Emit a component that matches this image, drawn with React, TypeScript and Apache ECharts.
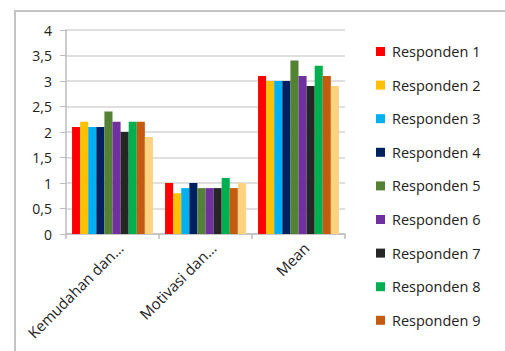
import React, { useEffect, useRef } from "react";
import * as echarts from "echarts";

const categories = ["Kemudahan dan...", "Motivasi dan...", "Mean"];
const seriesNames = [
  "Responden 1", "Responden 2", "Responden 3", "Responden 4", "Responden 5",
  "Responden 6", "Responden 7", "Responden 8", "Responden 9", "Responden 10",
];
const legendNames = seriesNames.slice(0, 9);
const seriesValues = [
  [2.1, 1.0, 3.1],
  [2.2, 0.8, 3.0],
  [2.1, 0.9, 3.0],
  [2.1, 1.0, 3.0],
  [2.4, 0.9, 3.4],
  [2.2, 0.9, 3.1],
  [2.0, 0.9, 2.9],
  [2.2, 1.1, 3.3],
  [2.2, 0.9, 3.1],
  [1.9, 1.0, 2.9],
];
const colors = [
  "#FF0000", "#FFC000", "#00B0F0", "#002060", "#548235",
  "#7030A0", "#262626", "#00B050", "#C55A11", "#FFD27F",
];
const yTicks = ["0", "0,5", "1", "1,5", "2", "2,5", "3", "3,5", "4"];

const FONT = "'Open Sans', sans-serif";

export default function App() {
  const ref = useRef<HTMLDivElement>(null);
  useEffect(() => {
    if (!ref.current) return;
    const chart = echarts.init(ref.current, null, { renderer: "svg" });
    chart.setOption({
      animation: false,
      color: colors,
      graphic: [
        {
          type: "rect",
          shape: { x: 15, y: 11, width: 520, height: 400 },
          style: { fill: "none", stroke: "#c4c4c4", lineWidth: 2 },
          silent: true,
        },
      ],
      grid: { left: 66, top: 30, right: 160, bottom: 117 },
      legend: {
        data: legendNames,
        orient: "vertical",
        left: 371,
        top: 38.5,
        icon: "rect",
        itemWidth: 9,
        itemHeight: 9,
        itemGap: 17.6,
        textStyle: {
          fontFamily: FONT,
          fontSize: 14.5,
          color: "#222",
          lineHeight: 16,
          padding: [0, 0, 0, 2],
        },
      },
      xAxis: {
        type: "category",
        data: categories,
        axisLine: { lineStyle: { color: "#bdbdbd", width: 1.5 } },
        axisTick: { show: true, length: 5, lineStyle: { color: "#bdbdbd", width: 1.5 } },
        axisLabel: {
          rotate: 45,
          margin: 19,
          padding: [0, -11, 0, 0],
          fontFamily: FONT,
          fontSize: 15,
          color: "#222",
        },
      },
      yAxis: {
        type: "value",
        min: 0,
        max: 4,
        interval: 0.5,
        axisLine: { show: true, lineStyle: { color: "#bdbdbd", width: 1.5 } },
        axisTick: { show: true, length: 6, lineStyle: { color: "#bdbdbd" } },
        splitLine: { lineStyle: { color: "#d4d4d4", width: 1.5 } },
        axisLabel: {
          margin: 14,
          fontFamily: FONT,
          fontSize: 14,
          color: "#222",
          formatter: (v: number) => yTicks[Math.round(v * 2)],
        },
      },
      series: seriesNames.map((name, i) => ({
        name,
        type: "bar",
        data: seriesValues[i],
        barGap: "0%",
        barCategoryGap: "13%",
      })),
    });
    return () => chart.dispose();
  }, []);
  return (
    <div
      ref={ref}
      style={{ position: "fixed", left: 0, top: 0, width: 505, height: 351, background: "#fff" }}
    />
  );
}
